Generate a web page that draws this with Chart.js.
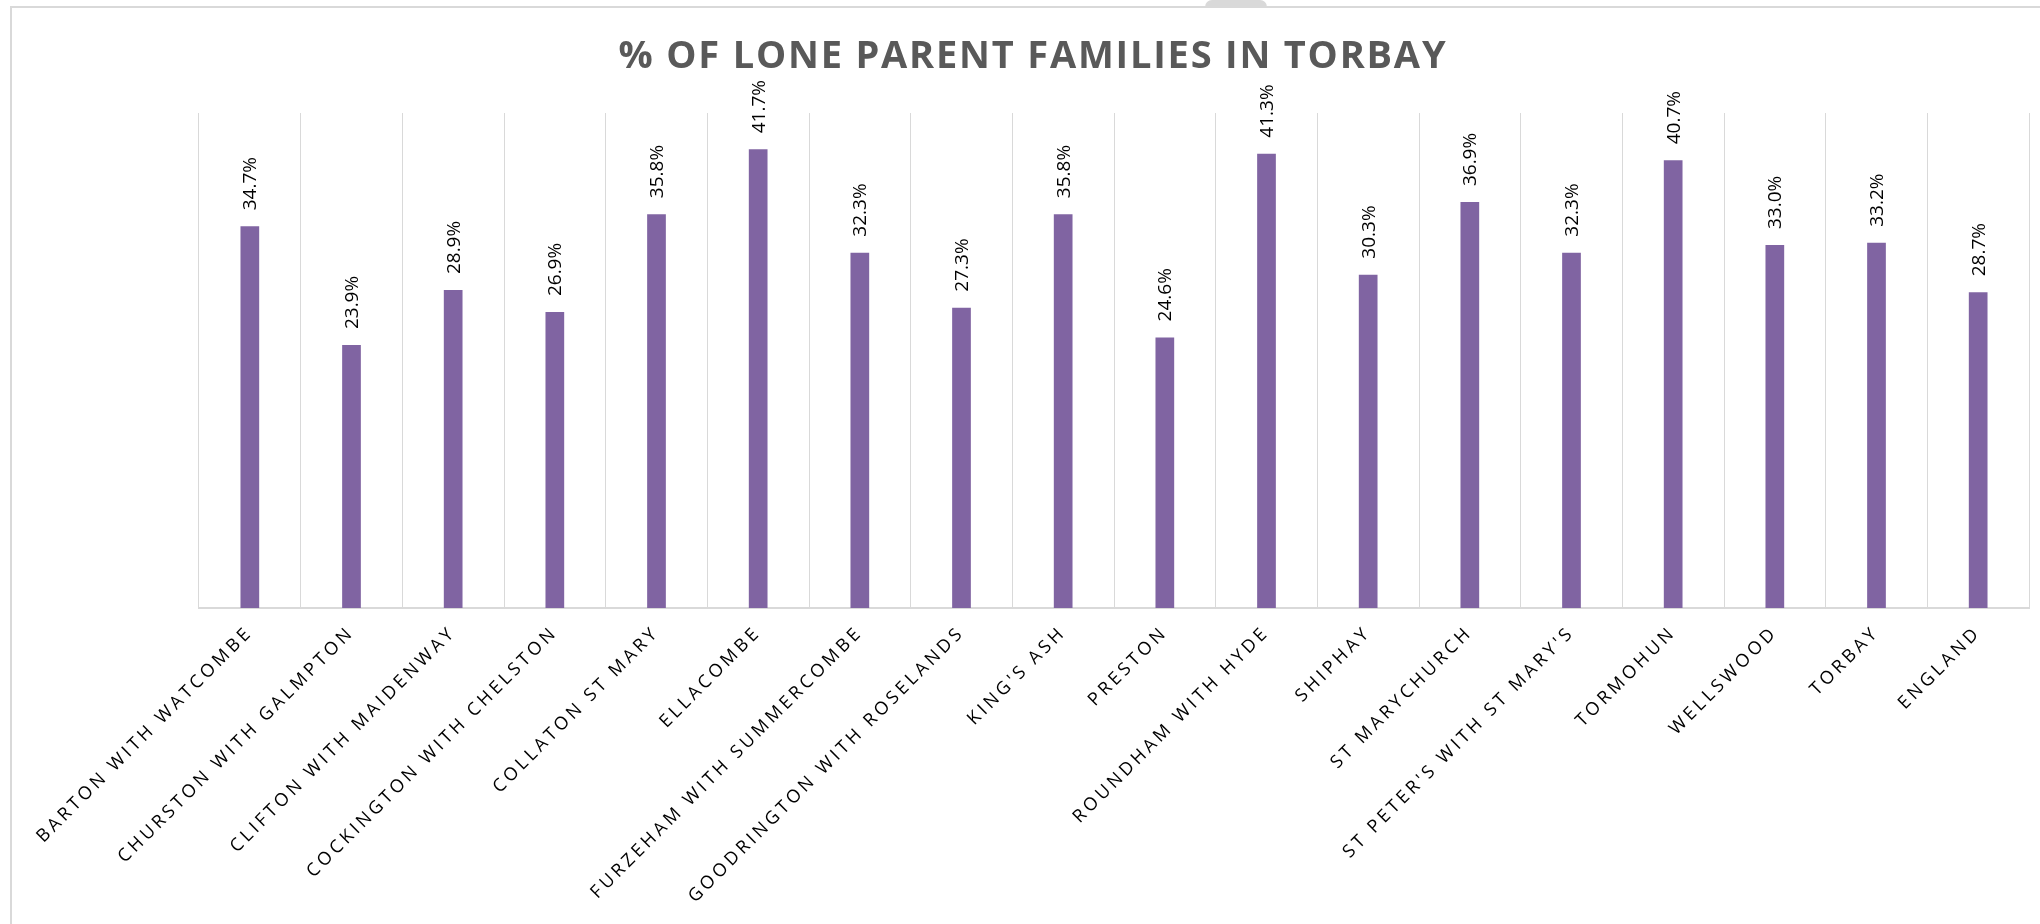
<!DOCTYPE html>
<html>
<head>
<meta charset="utf-8">
<title>% of lone parent families in Torbay</title>
<script src="https://cdn.jsdelivr.net/npm/chart.js@4/dist/chart.umd.min.js"></script>
<style>
  html, body { margin: 0; padding: 0; background: #fff; }
  #wrap { position: relative; width: 2040px; height: 924px; overflow: hidden; }
  #frame {
    position: absolute; left: 10px; top: 6px; width: 2100px; height: 1000px;
    border-left: 2px solid #d9d9d9; border-top: 2px solid #d9d9d9;
  }
  #tab {
    position: absolute; left: 1205px; top: 0; width: 62px; height: 7px;
    background: #d9d9d9; border-radius: 30px 30px 0 0;
  }
  #chart { position: absolute; left: 0; top: 0; }
</style>
</head>
<body>
<div id="wrap">
  <div id="frame"></div>
  <div id="tab"></div>
  <canvas id="chart" width="2040" height="924"></canvas>
</div>
<script>
// wards plus the Torbay and England comparison
const wards = [
  "BARTON WITH WATCOMBE",
  "CHURSTON WITH GALMPTON",
  "CLIFTON WITH MAIDENWAY",
  "COCKINGTON WITH CHELSTON",
  "COLLATON ST MARY",
  "ELLACOMBE",
  "FURZEHAM WITH SUMMERCOMBE",
  "GOODRINGTON WITH ROSELANDS",
  "KING'S ASH",
  "PRESTON",
  "ROUNDHAM WITH HYDE",
  "SHIPHAY",
  "ST MARYCHURCH",
  "ST PETER'S WITH ST MARY'S",
  "TORMOHUN",
  "WELLSWOOD",
  "TORBAY",
  "ENGLAND",
];

// % of lone parent families
const lonePct = [
  34.7, 23.9, 28.9, 26.9, 35.8, 41.7, 32.3, 27.3, 35.8,
  24.6, 41.3, 30.3, 36.9, 32.3, 40.7, 33.0, 33.2, 28.7,
];

const chartTitle = "% OF LONE PARENT FAMILIES IN TORBAY";

// spaced out category labels (as in the Excel original)
const spacingPlugin = {
  id: "spacing",
  beforeLayout(chart) {
    chart.ctx.letterSpacing = "3.5px";
  },
  beforeDraw(chart) {
    chart.ctx.letterSpacing = "3.5px";
  },
};

// value labels on top of the bars, turned upright, plus the title
const valueLabels = {
  id: "valueLabels",
  afterDatasetsDraw(chart) {
    const ctx = chart.ctx;
    const meta = chart.getDatasetMeta(0);
    meta.data.forEach((bar, i) => {
      ctx.save();
      ctx.letterSpacing = "0px";
      ctx.font = '19px "Open Sans"';
      ctx.fillStyle = "#000";
      ctx.translate(bar.x, bar.y - 16);
      ctx.rotate(-Math.PI / 2);
      ctx.textAlign = "left";
      ctx.textBaseline = "middle";
      ctx.fillText(lonePct[i].toFixed(1) + "%", 0, 1);
      ctx.restore();
    });
  },
  afterDraw(chart) {
    const ctx = chart.ctx;
    ctx.save();
    ctx.letterSpacing = "1.8px";
    ctx.font = 'bold 38px "Open Sans"';
    ctx.fillStyle = "#595959";
    ctx.textAlign = "center";
    ctx.textBaseline = "alphabetic";
    ctx.fillText(chartTitle, 1033, 68);
    ctx.restore();
  },
};

new Chart(document.getElementById("chart"), {
  type: "bar",
  data: {
    labels: wards,
    datasets: [
      {
        label: "% lone parent families",
        data: lonePct,
        backgroundColor: "#8064a2",
        borderWidth: 0,
        categoryPercentage: 1,
        barPercentage: 0.184,
      },
    ],
  },
  options: {
    responsive: false,
    animation: false,
    layout: {
      padding: { top: 113, left: 199, right: 11, bottom: 0 },
    },
    plugins: {
      legend: { display: false },
      title: { display: false },
      tooltip: { enabled: false },
    },
    scales: {
      x: {
        grid: {
          color: "#d9d9d9",
          lineWidth: 1,
          drawTicks: false,
          offset: true,
        },
        border: { color: "#d9d9d9", width: 2 },
        ticks: {
          autoSkip: false,
          minRotation: 45,
          maxRotation: 45,
          padding: 14,
          color: "#000",
          font: { family: "Open Sans", size: 18 },
        },
        afterFit(scale) {
          scale.height = 316;
        },
      },
      y: {
        display: false,
        min: 0,
        max: 45,
      },
    },
  },
  plugins: [spacingPlugin, valueLabels],
});
</script>
</body>
</html>
